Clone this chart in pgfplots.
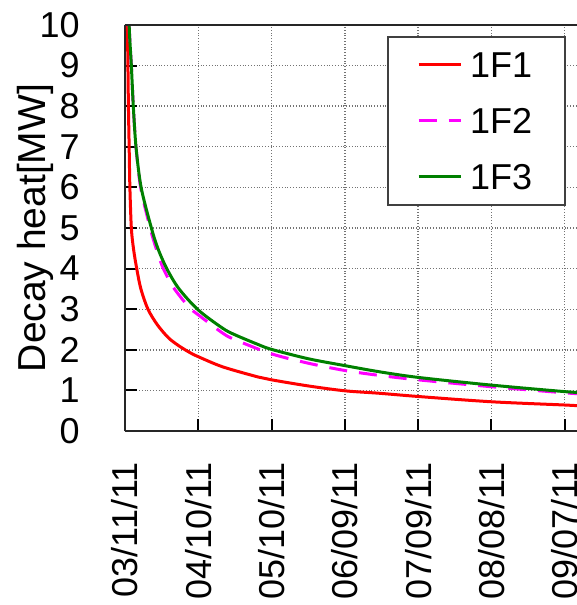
\documentclass[border=0pt]{standalone}
\usepackage{fontspec}
\setmainfont{Liberation Sans}
\usepackage{pgfplots}
\pgfplotsset{compat=1.18}
\definecolor{cred}{RGB}{255,0,0}
\definecolor{cmag}{RGB}{255,0,255}
\definecolor{cgreen}{RGB}{0,128,0}
\begin{document}
\begin{tikzpicture}
\useasboundingbox (-62.5pt,-87pt) rectangle (226pt,215.5pt);
\begin{axis}[
  scale only axis, width=226pt, height=203pt,
  xmin=0, xmax=185, ymin=0, ymax=10,
  xtick={0,30,60,90,120,150,180},
  xticklabels={03/11/11,04/10/11,05/10/11,06/09/11,07/09/11,08/08/11,09/07/11},
  ytick={0,1,...,10},
  axis lines=left, axis line style={-, line width=1pt, black!85},
  tick style={black, line width=1pt}, major tick length=6pt, tick align=inside,
  grid=major, grid style={densely dotted, black!55, line width=0.7pt},
  tick label style={font=\fontsize{18}{20}\selectfont},
  /pgf/number format/assume math mode=true,
  xticklabel style={rotate=90, anchor=east, inner sep=0pt},
  xticklabel shift=15.5pt,
  yticklabel style={anchor=east, inner sep=0pt},
  yticklabel shift=22.5pt,
  ylabel={Decay heat[MW]},
  every axis y label/.style={at={(axis description cs:-0.199,0.5)}, rotate=90, anchor=center, font=\fontsize{19.5}{21}\selectfont},
  legend style={at={(0.9757,0.973)}, anchor=north east, draw=black!75, line width=0.8pt,
    font=\fontsize{18}{20}\selectfont, inner xsep=14.5pt, inner ysep=5.5pt,
    row sep=11pt, column sep=2pt,
    nodes={inner sep=2pt, text height=13pt, text depth=0pt}},
  legend cell align=left,
  legend image code/.code={\draw[#1] (0pt,0pt) -- (21pt,0pt);},
]
\addplot[cred, line width=1.5pt, smooth] coordinates {
(0.8,11.5) (1.0,10) (1.2,9) (1.4,8) (1.7,7) (2.0,6) (2.6,5) (3.5,4.48) (4.8,4) (6.5,3.5) (9.4,3) (13.2,2.62) (17.7,2.3) (22,2.1) (26.6,1.93) (30,1.83) (40,1.58) (54.5,1.33) (60,1.26) (75,1.11) (90,0.99) (104,0.93) (120,0.85) (150,0.72) (180,0.64) (186,0.62)
};
\addlegendentry{1F1}
\addplot[cmag, line width=1.5pt, smooth, dash pattern=on 9pt off 6pt] coordinates {
(1.3,11.5) (1.7,10) (2.6,9) (3.4,8) (4.5,7) (6.4,6) (10.3,5) (13,4.45) (15.7,4) (20,3.52) (26.9,3) (30,2.86) (40,2.41) (45,2.25) (60,1.90) (75,1.67) (90,1.49) (104,1.37) (120,1.26) (150,1.09) (180,0.94) (186,0.92)
};
\addlegendentry{1F2}
\addplot[cgreen, line width=1.5pt, smooth] coordinates {
(1.3,11.5) (1.7,10) (2.6,9) (3.4,8) (4.5,7) (6.6,6) (10.8,5) (13.5,4.49) (17.1,4) (22,3.51) (30,2.98) (40,2.53) (45,2.37) (54.5,2.13) (60,2.01) (75,1.78) (90,1.61) (104,1.46) (120,1.32) (150,1.13) (180,0.97) (186,0.95)
};
\addlegendentry{1F3}
\draw[black!85, line width=1pt] (rel axis cs:0,1) -- (rel axis cs:1,1);
\end{axis}
\end{tikzpicture}
\end{document}
